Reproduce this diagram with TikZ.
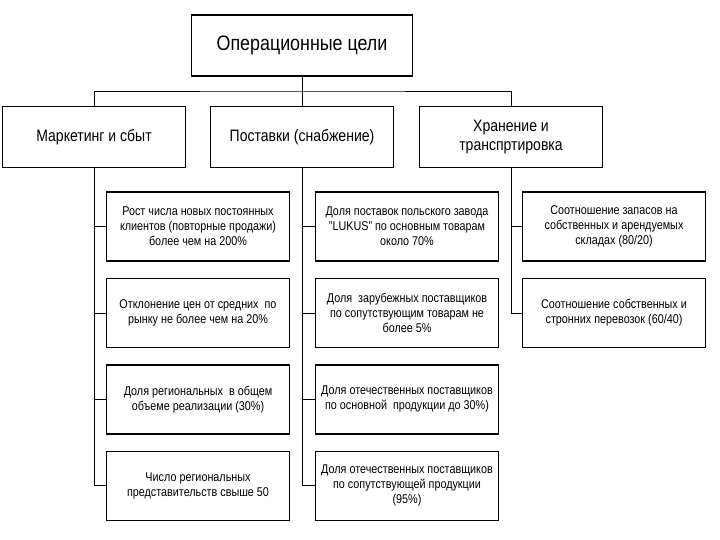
\documentclass[tikz,border=0pt]{standalone}
\usepackage{fontspec}
\setmainfont{Liberation Sans}[FakeStretch=0.85]
\usetikzlibrary{positioning}
\tikzset{goal/.style={draw, line width=1.4pt, minimum width=221pt, minimum height=61pt, font=\fontsize{21}{25}\selectfont}}
\tikzset{area/.style={draw, line width=1.4pt, minimum width=183pt, minimum height=61pt, align=center, font=\fontsize{16.5}{19}\selectfont}}
\tikzset{target/.style={draw, line width=1.4pt, minimum width=183pt, minimum height=69pt, inner sep=1pt, align=center, font=\fontsize{12.7}{15}\selectfont}}
\tikzset{link/.style={line width=0.7pt}}

\begin{document}
\begin{tikzpicture}[x=1pt, y=-1pt, node distance=16pt]
            \useasboundingbox (0,0) rectangle (720,540);
            \node [goal] at (302,45.5) (Goal) {Операционные цели};
            \node [area] at (94,137) (Mark) {Маркетинг и сбыт};
            \node [area] at (302,137) (Supp) {Поставки (снабжение)};
            \node [area] at (511,137) (Stor) {Хранение и\\транспртировка};
            \coordinate (bus) at (302,91);
            % marketing
            \node [target] at (198,226.5) (M1) {Рост числа новых постоянных\\клиентов (повторные продажи)\\более чем на 200\%};
            \node [target, below=of M1] (M2) {Отклонение цен от средних~ по\\рынку не более чем на 20\%};
            \node [target, below=of M2] (M3) {Доля региональных~ в общем\\объеме реализации (30\%)};
            \node [target, below=of M3] (M4) {Число региональных\\представительств свыше 50};
            % supply
            \node [target] at (407,226.5) (S1) {Доля поставок польского завода\\"LUKUS" по основным товарам\\около 70\%};
            \node [target, below=of S1] (S2) {Доля~ зарубежных поставщиков\\по сопутствующим товарам не\\более 5\%};
            \node [target, below=of S2] (S3) {Доля отечественных поставщиков\\по основной~ продукции до 30\%)};
            \node [target, below=of S3] (S4) {Доля отечественных поставщиков\\по сопутствующей продукции\\(95\%)};
            % storage
            \node [target] at (614,226.5) (T1) {Соотношение запасов на\\собственных и арендуемых\\складах (80/20)};
            \node [target, below=of T1] (T2) {Соотношение собственных и\\стронних перевозок (60/40)};
            \draw[link] (Goal) -- (Supp);
            \draw[link] (Mark) |- (bus) -| (Stor);
            \draw[link] (Mark.south) |- (M1.west);
            \draw[link] (Mark.south) |- (M2.west);
            \draw[link] (Mark.south) |- (M3.west);
            \draw[link] (Mark.south) |- (M4.west);
            \draw[link] (Supp.south) |- (S1.west);
            \draw[link] (Supp.south) |- (S2.west);
            \draw[link] (Supp.south) |- (S3.west);
            \draw[link] (Supp.south) |- (S4.west);
            \draw[link] (Stor.south) |- (T1.west);
            \draw[link] (Stor.south) |- (T2.west);
          \end{tikzpicture}
\end{document}
